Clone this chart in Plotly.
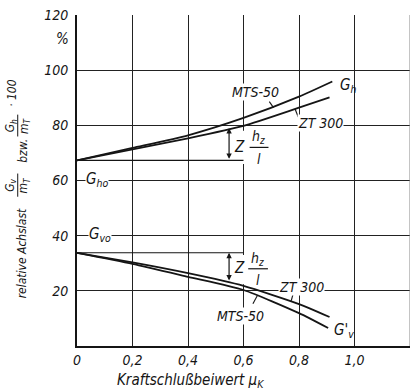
import plotly.graph_objects as go

# ---- data ----
mu_h_mts = [0, 0.2, 0.4, 0.6, 0.8, 0.92]
gh_mts = [67.3, 71.8, 76.4, 82.7, 90.4, 95.9]
mu_h_zt = [0, 0.2, 0.4, 0.6, 0.8, 0.91]
gh_zt = [67.3, 71.3, 75.3, 79.8, 86.4, 90.1]
mu_v_zt = [0, 0.2, 0.4, 0.6, 0.8, 0.91]
gv_zt = [33.8, 30.3, 26.4, 21.8, 15.2, 10.5]
mu_v_mts = [0, 0.2, 0.4, 0.6, 0.8, 0.905]
gv_mts = [33.8, 29.8, 25.1, 20.3, 11.9, 6.5]
gh0 = 67.3
gv0 = 33.8
mu_ref = [0, 0.6]
x_tickvals = [0, 0.2, 0.4, 0.6, 0.8, 1.0]
x_ticktext = ["0", "0,2", "0,4", "0,6", "0,8", "1,0"]
y_tickvals = [20, 40, 60, 80, 100, 120]
y_ticktext = ["20", "40", "60", "80", "100", "120"]

FONT = "Liberation Sans Narrow, DejaVu Sans Condensed, Arial Narrow, Liberation Sans, sans-serif"
INK = "#151515"

fig = go.Figure()
line = dict(color=INK, width=1.8, shape="spline", smoothing=0.6)
fig.add_trace(go.Scatter(x=mu_h_mts, y=gh_mts, mode="lines", line=line, name="MTS-50 Gh"))
fig.add_trace(go.Scatter(x=mu_h_zt, y=gh_zt, mode="lines", line=line, name="ZT 300 Gh"))
fig.add_trace(go.Scatter(x=mu_v_zt, y=gv_zt, mode="lines", line=line, name="ZT 300 Gv"))
fig.add_trace(go.Scatter(x=mu_v_mts, y=gv_mts, mode="lines", line=line, name="MTS-50 Gv"))
fig.add_trace(go.Scatter(x=mu_ref, y=[gh0, gh0], mode="lines", line=dict(color=INK, width=1.2)))
fig.add_trace(go.Scatter(x=mu_ref, y=[gv0, gv0], mode="lines", line=dict(color=INK, width=1.2)))


def lab(text, x, y, size=14, bg=True, xref="x", yref="y", angle=0, xanchor="center"):
    return dict(text=text, x=x, y=y, xref=xref, yref=yref, showarrow=False,
                font=dict(family=FONT, size=size, color=INK, style="italic"),
                bgcolor="white" if bg else "rgba(0,0,0,0)", borderpad=0, textangle=angle,
                xanchor=xanchor, yanchor="middle")


ann = [
    lab("MTS-50", 0.645, 92.2),
    lab("ZT 300", 0.879, 80.8),
    lab("G<sub>h</sub>", 0.977, 94.5, size=15, bg=False),
    lab("ZT 300", 0.81, 21.3),
    lab("MTS-50", 0.59, 10.8),
    lab("G'<sub>v</sub>", 0.962, 5.8, size=15, bg=False),
    lab("G<sub>ho</sub>", 0.072, 60.3, size=15),
    lab("G<sub>vo</sub>", 0.083, 40.3, size=15),
    # Z hz/l upper
    lab("Z", 0.585, 72.3, size=15, bg=False),
    lab("h<sub>z</sub>", 0.655, 75.6, size=14, bg=False),
    lab("l", 0.655, 67.9, size=14, bg=False),
    # Z hz/l lower
    lab("Z", 0.585, 28.4, size=15, bg=False),
    lab("h<sub>z</sub>", 0.652, 31.6, size=14, bg=False),
    lab("l", 0.652, 24.0, size=14, bg=False),
    # axis texts
    lab("%", -0.045, 0.928, size=15, bg=False, xref="paper", yref="paper"),
    lab("Kraftschlußbeiwert μ<sub>K</sub>", 0.342, -0.105, size=15, bg=False,
        xref="paper", yref="paper"),
    lab("relative Achslast", -0.166, 0.279, size=12, bg=False, xref="paper", yref="paper", angle=-90),
    lab("G<sub>v</sub>", -0.199, 0.486, size=12, bg=False, xref="paper", yref="paper", angle=-90),
    lab("m<sub>T</sub>", -0.158, 0.486, size=12, bg=False, xref="paper", yref="paper", angle=-90),
    lab("bzw.", -0.163, 0.589, size=12, bg=False, xref="paper", yref="paper", angle=-90),
    lab("G<sub>h</sub>", -0.199, 0.666, size=12, bg=False, xref="paper", yref="paper", angle=-90),
    lab("m<sub>T</sub>", -0.158, 0.666, size=12, bg=False, xref="paper", yref="paper", angle=-90),
    lab("· 100", -0.194, 0.766, size=12, bg=False, xref="paper", yref="paper", angle=-90),
]

# double arrows Z*hz/l
for xa, y_lo, y_hi in [(0.548, gh0, 79.0), (0.548, 23.2, gv0)]:
    ann.append(dict(x=xa, y=y_hi, ax=xa, ay=y_lo, xref="x", yref="y", axref="x", ayref="y",
                    text="", showarrow=True, arrowhead=2, arrowside="end+start",
                    arrowsize=0.9, arrowwidth=1.2, arrowcolor=INK))

shapes = [
    # white masks behind Z hz/l groups (hide grid only)
    dict(type="rect", x0=0.565, x1=0.70, y0=66.0, y1=78.0, xref="x", yref="y",
         fillcolor="white", line=dict(width=0), layer="between"),
    dict(type="rect", x0=0.565, x1=0.70, y0=22.4, y1=33.0, xref="x", yref="y",
         fillcolor="white", line=dict(width=0), layer="between"),
    # fraction bars
    dict(type="line", x0=0.622, x1=0.690, y0=72.0, y1=72.0, xref="x", yref="y",
         line=dict(color=INK, width=1.2)),
    dict(type="line", x0=0.617, x1=0.688, y0=28.0, y1=28.0, xref="x", yref="y",
         line=dict(color=INK, width=1.2)),
    # leader ticks
    dict(type="line", x0=0.693, x1=0.708, y0=88.6, y1=86.4, xref="x", yref="y",
         line=dict(color=INK, width=1.1)),
    dict(type="line", x0=0.797, x1=0.786, y0=83.0, y1=85.9, xref="x", yref="y",
         line=dict(color=INK, width=1.1)),
    dict(type="line", x0=0.778, x1=0.772, y0=18.6, y1=16.4, xref="x", yref="y",
         line=dict(color=INK, width=1.1)),
    dict(type="line", x0=0.634, x1=0.650, y0=15.3, y1=18.3, xref="x", yref="y",
         line=dict(color=INK, width=1.1)),
    # right border (thin)
    dict(type="line", x0=1.2, x1=1.2, y0=0, y1=120, xref="x", yref="y",
         line=dict(color="#888888", width=1)),
    # y-title fraction bars
    dict(type="line", x0=-0.178, x1=-0.178, y0=0.451, y1=0.521, xref="paper", yref="paper",
         line=dict(color=INK, width=1)),
    dict(type="line", x0=-0.178, x1=-0.178, y0=0.633, y1=0.699, xref="paper", yref="paper",
         line=dict(color=INK, width=1)),
]

fig.update_layout(
    width=417, height=392,
    margin=dict(l=77, r=7, t=13, b=46),
    paper_bgcolor="white", plot_bgcolor="white",
    showlegend=False,
    annotations=ann, shapes=shapes,
    font=dict(family=FONT, color=INK, size=14),
)
fig.update_xaxes(range=[0, 1.2], tickvals=x_tickvals, ticktext=x_ticktext,
                 showgrid=True, gridcolor="#222222", gridwidth=1,
                 showline=True, linecolor=INK, linewidth=2, zeroline=False,
                 ticks="", tickfont=dict(family=FONT, size=14, color=INK, style="italic"))
fig.update_yaxes(range=[0, 120], tickvals=y_tickvals, ticktext=y_ticktext,
                 showgrid=True, gridcolor="#222222", gridwidth=1,
                 showline=True, linecolor=INK, linewidth=2, zeroline=False,
                 ticks="", ticklabelstandoff=4,
                 tickfont=dict(family=FONT, size=14, color=INK, style="italic"))

fig.write_html("out.html")
